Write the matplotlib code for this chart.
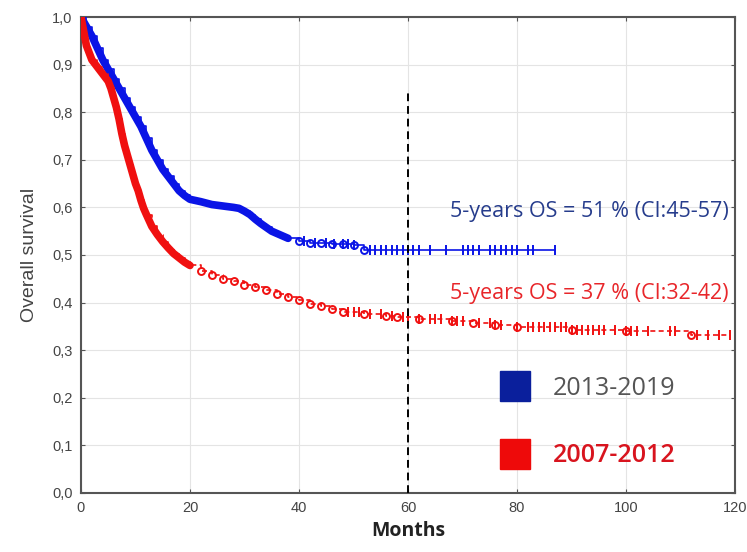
"""
Kaplan-Meier: overall survival by period
"""

import matplotlib
matplotlib.use('Agg')
import matplotlib.pyplot as plt
from matplotlib.lines import Line2D
from matplotlib.ticker import FuncFormatter
import numpy as np

# ---- data ----
blue_t = [0, 1, 2, 3, 4, 5, 6, 7, 8, 9, 10, 11, 12, 13, 14, 15, 16, 17, 18, 19,
          20, 22, 24, 26, 28, 29, 30, 31, 32, 33, 34, 35, 36, 37, 38, 40, 42,
          44, 46, 48, 50, 52]
blue_s = [1.0, 0.98, 0.96, 0.935, 0.91, 0.89, 0.87, 0.85, 0.83, 0.81, 0.79,
          0.77, 0.745, 0.72, 0.70, 0.68, 0.665, 0.65, 0.635, 0.625, 0.617,
          0.612, 0.606, 0.603, 0.600, 0.598, 0.592, 0.585, 0.575, 0.566, 0.558,
          0.550, 0.545, 0.540, 0.535, 0.530, 0.526, 0.525, 0.524, 0.523, 0.522,
          0.51]
blue_end = 87
blue_cens = [41, 43, 45, 46.5, 48, 49, 50, 53, 54, 55, 56, 57, 58, 59, 60, 61,
             62, 64, 67, 70, 71, 72, 73, 75, 76, 77, 78, 79, 80, 82, 83, 87]

red_t = [0, 0.5, 1, 1.5, 2, 3, 4, 5, 5.5, 6, 6.5, 7, 7.5, 8, 8.5, 9, 9.5, 10,
         10.5, 11, 11.5, 12, 13, 14, 15, 16, 17, 18, 19, 20, 22, 24, 26, 28,
         30, 32, 34, 36, 38, 40, 42, 44, 46, 48, 52, 56, 58, 62, 68, 72, 76,
         80, 90, 100, 112]
red_s = [1.0, 0.97, 0.94, 0.925, 0.91, 0.895, 0.88, 0.865, 0.85, 0.83, 0.81,
         0.785, 0.755, 0.73, 0.71, 0.69, 0.67, 0.65, 0.635, 0.615, 0.598, 0.585,
         0.56, 0.543, 0.528, 0.515, 0.503, 0.494, 0.485, 0.478, 0.466, 0.457,
         0.45, 0.445, 0.438, 0.432, 0.426, 0.418, 0.412, 0.405, 0.398, 0.392,
         0.386, 0.38, 0.376, 0.372, 0.37, 0.366, 0.362, 0.358, 0.353, 0.348,
         0.343, 0.34, 0.332]
red_end = 119
red_cens = [49, 50, 51, 53, 55, 57, 59, 60, 62, 64, 65, 66, 68, 69, 70, 73, 75,
            76, 77, 80, 82, 83, 84, 85, 86, 87, 88, 89, 90, 91, 92, 93, 94, 95,
            96, 98, 100, 101, 102, 104, 108, 109, 113, 115, 117, 119]

# months up to which the events are so dense the curve reads as a thick band
blue_dense_until = 38
red_dense_until = 20

series = [
    ('2013-2019', blue_t, blue_s, blue_end, blue_cens, blue_dense_until,
     '#0a14e6', '-'),
    ('2007-2012', red_t, red_s, red_end, red_cens, red_dense_until,
     '#f01010', (0, (3, 2))),
]
legend_colors = ['#0a1f9c', '#ee0a0a']
legend_text_colors = ['#555555', '#d8141e']
os_labels = ['5-years OS = 51 % (CI:45-57)', '5-years OS = 37 % (CI:32-42)']
os_colors = ['#263c8c', '#e8262a']
cutoff = 60

fig = plt.figure(figsize=(7.47, 5.52), dpi=100)
ax = fig.add_axes([0.1084, 0.1069, 0.8756, 0.8623])

for (name, t, s, end, cens, dense, color, ls) in series:
    t = np.asarray(t)
    s = np.asarray(s)
    ax.step(np.append(t, end), np.append(s, s[-1]), where='post', color=color,
            lw=1.2, ls=ls, zorder=3)
    m = t <= dense
    ax.plot(t[m], s[m], color=color, lw=5.5, solid_capstyle='round', zorder=3)
    ax.plot(t[~m], s[~m], ls='', marker='o', ms=5, mfc='none', mec=color,
            mew=1.4, zorder=4)
    # censored observations sit on the step curve
    idx = np.searchsorted(t, cens, side='right') - 1
    ax.plot(cens, s[idx], ls='', marker='|', ms=7, mew=1.4, color=color,
            zorder=4)

ax.vlines(cutoff, 0, 0.84, colors='black', linestyles=(0, (4, 2.5)), lw=1.4,
          zorder=5)

ax.text(118.8, 0.592, os_labels[0], color=os_colors[0], fontsize=15.5,
        family='Open Sans', ha='right', va='center')
ax.text(118.8, 0.42, os_labels[1], color=os_colors[1], fontsize=15.5,
        family='Open Sans', ha='right', va='center')

handles = [Line2D([], [], ls='', marker='s', ms=21, color=c) for c in legend_colors]
leg = ax.legend(handles, [sr[0] for sr in series], loc='center left',
                bbox_to_anchor=(0.607, 0.149), frameon=False,
                labelspacing=1.7, handletextpad=0.9, handlelength=1.2,
                prop={'family': 'Open Sans', 'size': 18})
for txt, c in zip(leg.get_texts(), legend_text_colors):
    txt.set_color(c)
leg.get_texts()[1].set_fontweight('semibold')

ax.set_xlim(0, 120)
ax.set_ylim(0, 1.0)
ax.set_xticks(np.arange(0, 121, 20))
ax.set_yticks(np.arange(0, 1.01, 0.1))
ax.yaxis.set_major_formatter(FuncFormatter(lambda v, p: f'{v:.1f}'.replace('.', ',')))
ax.grid(True, color='#e4e4e4', lw=0.8)
ax.set_axisbelow(True)
ax.tick_params(direction='in', length=3, top=True, right=True,
               labelsize=10.5, labelcolor='#444444', color='#555555', pad=6)
for lab in ax.get_xticklabels() + ax.get_yticklabels():
    lab.set_family('Liberation Sans')
for sp in ax.spines.values():
    sp.set_color('#555555')
    sp.set_linewidth(1.5)

ax.set_ylabel('Overall survival', fontsize=14, color='#444444',
              family='Liberation Sans', labelpad=10)
ax.set_xlabel('Months', fontsize=14, fontweight='bold', color='#222222',
              family='Open Sans', labelpad=4)

fig.savefig('out.png', dpi=100)
